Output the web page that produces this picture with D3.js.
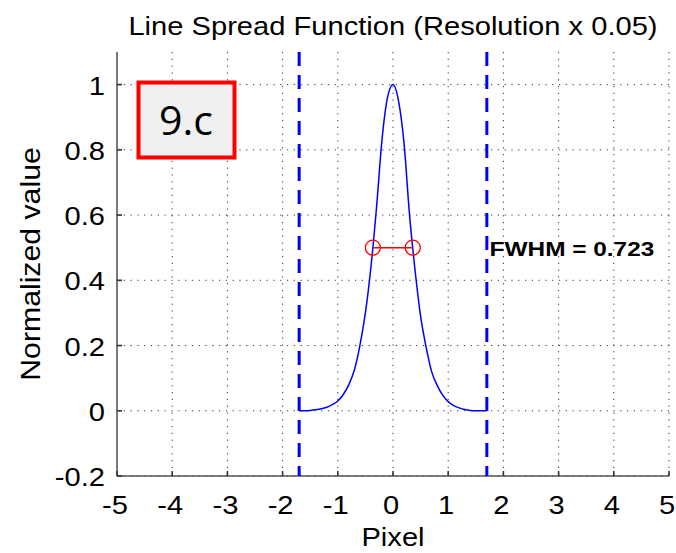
<!DOCTYPE html>
<meta charset="utf-8">
<html>
<head>
<title>Line Spread Function</title>
<style>
  body { margin: 0; background: #fff; }
  svg text { font-family: "Liberation Sans", Arial, sans-serif; fill: #000; }
</style>
</head>
<body>
<div id="chart"></div>

<script src="https://d3js.org/d3.v7.min.js"></script>
<script>

// data
var pixel = [-1.7, -1.6, -1.5, -1.4, -1.3, -1.2, -1.1, -1.0, -0.9, -0.8, -0.7, -0.6, -0.5, -0.4, -0.3, -0.2, -0.1,
             0, 0.1, 0.2, 0.3, 0.4, 0.5, 0.6, 0.7, 0.8, 0.9, 1.0, 1.1, 1.2, 1.3, 1.4, 1.5, 1.6, 1.7];
var lsf = [0, 0, 0.001, 0.003, 0.006, 0.011, 0.019, 0.03, 0.05, 0.08, 0.125, 0.2, 0.30, 0.44, 0.62, 0.83, 0.96,
           1.0, 0.95, 0.82, 0.60, 0.43, 0.29, 0.195, 0.12, 0.078, 0.048, 0.028, 0.016, 0.009, 0.004, 0.001, 0, 0, 0];
var fwhmX = [-0.365, 0.358];
var fwhmLevel = 0.5;
var boundX = [-1.7, 1.7];
var xTicks = [-5, -4, -3, -2, -1, 0, 1, 2, 3, 4, 5];
var yTicks = [-0.2, 0, 0.2, 0.4, 0.6, 0.8, 1];

var W = 676, H = 553;
var margin = {top: 52, right: 7, bottom: 77, left: 117},
    width = W - margin.left - margin.right,
    height = H - margin.top - margin.bottom;

var svg = d3.select("#chart")
  .append("svg")
    .attr("width", W)
    .attr("height", H);

var g = svg.append("g")
    .attr("transform", "translate(" + margin.left + "," + margin.top + ")");

var x = d3.scaleLinear().domain([-5, 5]).range([0, width]);
var y = d3.scaleLinear().domain([-0.2, 1.1]).range([height, 0]);

// stretch text a bit wider, like the picture
var sx = 1.12;
function wide(sel, px, py) {
  sel.attr("transform", "translate(" + px + "," + py + ") scale(" + sx + ",1)");
}

// dotted grid
g.selectAll(".vgrid")
  .data(xTicks.slice(1))
  .enter().append("line")
    .attr("x1", d => x(d)).attr("x2", d => x(d))
    .attr("y1", 0).attr("y2", height)
    .attr("stroke", "#333").attr("stroke-width", 1)
    .attr("stroke-dasharray", "1.2,5.6");
g.selectAll(".hgrid")
  .data(yTicks)
  .enter().append("line")
    .attr("x1", 0).attr("x2", width)
    .attr("y1", d => y(d)).attr("y2", d => y(d))
    .attr("stroke", "#333").attr("stroke-width", 1)
    .attr("stroke-dasharray", "1.2,5.6");

// axes, ticks pointing in
g.append("line")
  .attr("x1", 0).attr("x2", 0).attr("y1", 0).attr("y2", height)
  .attr("stroke", "#555").attr("stroke-width", 1.6);
g.append("line")
  .attr("x1", 0).attr("x2", width).attr("y1", height).attr("y2", height)
  .attr("stroke", "#555").attr("stroke-width", 1.6);

g.selectAll(".xt")
  .data(xTicks)
  .enter().append("line")
    .attr("x1", d => x(d)).attr("x2", d => x(d))
    .attr("y1", height).attr("y2", height - 5)
    .attr("stroke", "#333").attr("stroke-width", 1.6);
g.selectAll(".yt")
  .data(yTicks)
  .enter().append("line")
    .attr("x1", 0).attr("x2", 5)
    .attr("y1", d => y(d)).attr("y2", d => y(d))
    .attr("stroke", "#333").attr("stroke-width", 1.6);

g.selectAll(".xl")
  .data(xTicks)
  .enter().append("text")
    .attr("text-anchor", "middle")
    .style("font-size", "26px")
    .each(function(d) { wide(d3.select(this), x(d) - 2, height + 38); })
    .text(d => d);
g.selectAll(".yl")
  .data(yTicks)
  .enter().append("text")
    .attr("text-anchor", "end")
    .style("font-size", "26px")
    .each(function(d) { wide(d3.select(this), -12, y(d) + 10); })
    .text(d => d);

// boundary lines
g.selectAll(".bound")
  .data(boundX)
  .enter().append("line")
    .attr("x1", d => x(d)).attr("x2", d => x(d))
    .attr("y1", 0).attr("y2", height)
    .attr("stroke", "#0000ff").attr("stroke-width", 3)
    .attr("stroke-dasharray", "14,9");

// the curve
var pts = pixel.map((p, i) => [p, lsf[i]]);
var line = d3.line()
  .x(d => x(d[0]))
  .y(d => y(d[1]))
  .curve(d3.curveMonotoneX);
g.append("path")
  .datum(pts)
  .attr("d", line)
  .attr("fill", "none")
  .attr("stroke", "#0000ff")
  .attr("stroke-width", 1.5);

// FWHM markers
g.append("line")
  .attr("x1", x(fwhmX[0])).attr("x2", x(fwhmX[1]))
  .attr("y1", y(fwhmLevel)).attr("y2", y(fwhmLevel))
  .attr("stroke", "#ff0000").attr("stroke-width", 1.5);
g.selectAll(".mk")
  .data(fwhmX)
  .enter().append("circle")
    .attr("cx", d => x(d)).attr("cy", y(fwhmLevel))
    .attr("r", 7.5)
    .attr("fill", "none")
    .attr("stroke", "#ff0000").attr("stroke-width", 1.3);

g.append("text")
  .style("font-size", "20px")
  .style("font-weight", "bold")
  .attr("transform", "translate(" + x(1.75) + "," + (y(0.5) + 8) + ") scale(1.22,1)")
  .text("FWHM = " + (fwhmX[1] - fwhmX[0]).toFixed(3));

// labels
svg.append("text")
  .attr("text-anchor", "middle")
  .style("font-size", "26px")
  .each(function() { wide(d3.select(this), margin.left + x(0), 35); })
  .text("Line Spread Function (Resolution x 0.05)");
svg.append("text")
  .attr("text-anchor", "middle")
  .style("font-size", "26px")
  .each(function() { wide(d3.select(this), margin.left + x(0), 546); })
  .text("Pixel");
svg.append("text")
  .attr("text-anchor", "middle")
  .style("font-size", "27px")
  .attr("transform", "translate(40," + (margin.top + height / 2) + ") rotate(-90) scale(" + sx + ",1)")
  .text("Normalized value");

// the 9.c tag
svg.append("rect")
  .attr("x", 138.5).attr("y", 82.5)
  .attr("width", 96).attr("height", 75)
  .attr("fill", "#f0f0f0")
  .attr("stroke", "#ff0000").attr("stroke-width", 4);
svg.append("text")
  .attr("x", 186).attr("y", 135)
  .attr("text-anchor", "middle")
  .style("font-family", "'Open Sans', sans-serif")
  .style("font-size", "41px")
  .text("9.c");

</script>
</body>
</html>
